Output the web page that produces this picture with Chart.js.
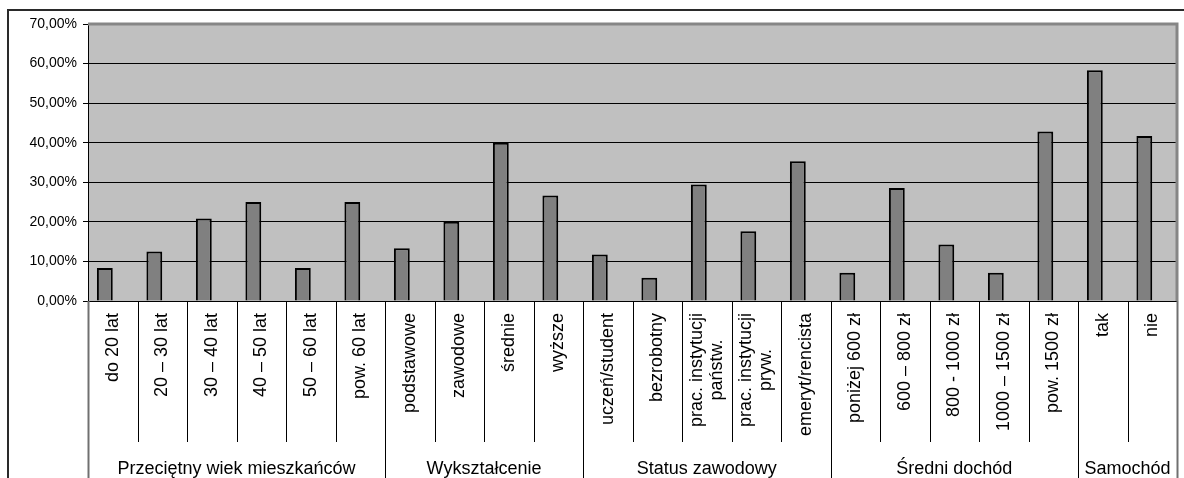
<!DOCTYPE html>
<html>
<head>
<meta charset="utf-8">
<script src="https://cdn.jsdelivr.net/npm/chart.js@4.4.0/dist/chart.umd.min.js"></script>
<style>
  html, body { margin: 0; padding: 0; background: #fff; }
  #wrap { width: 1184px; height: 478px; position: relative; }
</style>
</head>
<body>
<div id="wrap"><canvas id="c" width="1184" height="478"></canvas></div>
<script>
// Category labels along the x axis (multi-line labels as arrays)
const categories = [
  'do 20 lat', '20 – 30 lat', '30 – 40 lat', '40 – 50 lat', '50 – 60 lat', 'pow. 60 lat',
  'podstawowe', 'zawodowe', 'średnie', 'wyższe',
  'uczeń/student', 'bezrobotny', ['prac. instytucji', 'państw.'], ['prac. instytucji', 'pryw.'], 'emeryt/rencista',
  'poniżej 600 zł', '600 – 800 zł', '800 - 1000 zł', '1000 – 1500 zł', 'pow. 1500 zł',
  'tak', 'nie'
];

// Second-level grouping under the category labels
const groups = ['Przeciętny wiek mieszkańców', 'Wykształcenie', 'Status zawodowy', 'Średni dochód', 'Samochód'];
const groupSizes = [6, 4, 5, 5, 2];

// Share of respondents in each category (%)
const shares = [
  8.33, 12.50, 20.83, 25.00, 8.33, 25.00,
  13.33, 20.00, 40.00, 26.67,
  11.76, 5.88, 29.41, 17.65, 35.29,
  7.14, 28.57, 14.29, 7.14, 42.86,
  58.33, 41.67
];

// Value axis ticks (%)
const yTicks = [0, 10, 20, 30, 40, 50, 60, 70];

const FONT = '"Liberation Sans", Arial, sans-serif';

const fmtPct = v => v.toFixed(2).replace('.', ',') + '%';

// Frame, plot background, category labels, separators and group captions
const decorations = {
  id: 'decorations',
  beforeDraw(chart) {
    const ctx = chart.ctx, a = chart.chartArea;
    ctx.save();
    ctx.fillStyle = '#ffffff';
    ctx.fillRect(0, 0, chart.width, chart.height);
    ctx.fillStyle = '#c0c0c0';
    ctx.fillRect(a.left, a.top, a.right - a.left, a.bottom - a.top);
    ctx.restore();
  },
  afterDraw(chart) {
    const ctx = chart.ctx, a = chart.chartArea, x = chart.scales.x;
    const half = (x.getPixelForValue(1) - x.getPixelForValue(0)) / 2;
    const boundary = i => x.getPixelForValue(i) - half;
    const H = chart.height;
    ctx.save();

    // plot area outline (top and right)
    ctx.strokeStyle = '#868686';
    ctx.lineWidth = 3;
    ctx.beginPath();
    ctx.moveTo(a.left, a.top);
    ctx.lineTo(a.right, a.top);
    ctx.lineTo(a.right, a.bottom);
    ctx.stroke();

    // separators between categories and between groups
    const groupEnds = new Set();
    let acc = 0;
    groupSizes.forEach(n => { acc += n; groupEnds.add(acc); });
    for (let i = 0; i <= categories.length; i++) {
      const px = Math.round(boundary(i)) + 0.5;
      const isEdge = i === 0 || i === categories.length;
      const isGroup = i === 0 || groupEnds.has(i);
      ctx.strokeStyle = isEdge ? '#707070' : '#000000';
      ctx.lineWidth = isEdge ? 2 : 1;
      ctx.beginPath();
      ctx.moveTo(px, a.bottom);
      ctx.lineTo(px, isGroup ? H : a.bottom + 141);
      ctx.stroke();
    }

    // rotated category labels, lines centred on each other, block ending near the axis
    ctx.fillStyle = '#000';
    ctx.font = '18px ' + FONT;
    ctx.textAlign = 'center';
    ctx.textBaseline = 'middle';
    const lh = 20;
    categories.forEach((lab, i) => {
      const lines = Array.isArray(lab) ? lab : [lab];
      const maxW = Math.max(...lines.map(l => ctx.measureText(l).width));
      ctx.save();
      ctx.translate(x.getPixelForValue(i), a.bottom + 12);
      ctx.rotate(-Math.PI / 2);
      lines.forEach((l, k) => {
        ctx.fillText(l, -maxW / 2, (k - (lines.length - 1) / 2) * lh);
      });
      ctx.restore();
    });

    // group captions
    ctx.textBaseline = 'alphabetic';
    let start = 0;
    groups.forEach((g, k) => {
      const end = start + groupSizes[k];
      const cx = (boundary(start) + boundary(end)) / 2;
      ctx.fillText(g, cx, 474);
      start = end;
    });

    // outer chart frame
    ctx.strokeStyle = '#2a2a2a';
    ctx.lineWidth = 2;
    ctx.beginPath();
    ctx.moveTo(8, H + 5);
    ctx.lineTo(8, 10);
    ctx.lineTo(chart.width + 5, 10);
    ctx.stroke();
    ctx.restore();
  }
};

new Chart(document.getElementById('c'), {
  type: 'bar',
  data: {
    labels: categories,
    datasets: [
      {
        data: shares,
        backgroundColor: '#808080',
        borderColor: '#000000',
        borderWidth: 2,
        borderSkipped: 'start',
        categoryPercentage: 0.64,
        barPercentage: 1
      },
      {
        // empty companion series: keeps each bar in the left half of its category
        data: categories.map(() => null),
        backgroundColor: '#808080',
        categoryPercentage: 0.64,
        barPercentage: 1
      }
    ]
  },
  options: {
    responsive: false,
    animation: false,
    devicePixelRatio: 1,
    layout: { padding: { left: 0, top: 24, right: 7, bottom: 0 } },
    plugins: { legend: { display: false }, tooltip: { enabled: false } },
    scales: {
      x: {
        offset: true,
        grid: { display: false, drawTicks: false },
        border: { display: true, color: '#000', width: 1 },
        ticks: { display: false, autoSkip: false },
        afterFit(s) { s.height = 177; }
      },
      y: {
        min: 0,
        max: 70,
        afterBuildTicks(s) { s.ticks = yTicks.map(v => ({ value: v })); },
        border: { display: true, color: '#000', width: 1 },
        grid: {
          color: c => (c.tick && c.tick.value === 70) ? 'rgba(0,0,0,0)' : '#000',
          tickColor: '#000',
          tickLength: 5,
          lineWidth: 1
        },
        ticks: {
          padding: 6,
          color: '#000',
          font: { family: FONT, size: 14 },
          callback: v => fmtPct(v)
        },
        afterFit(s) { s.width = 88; }
      }
    }
  },
  plugins: [decorations]
});
</script>
</body>
</html>
